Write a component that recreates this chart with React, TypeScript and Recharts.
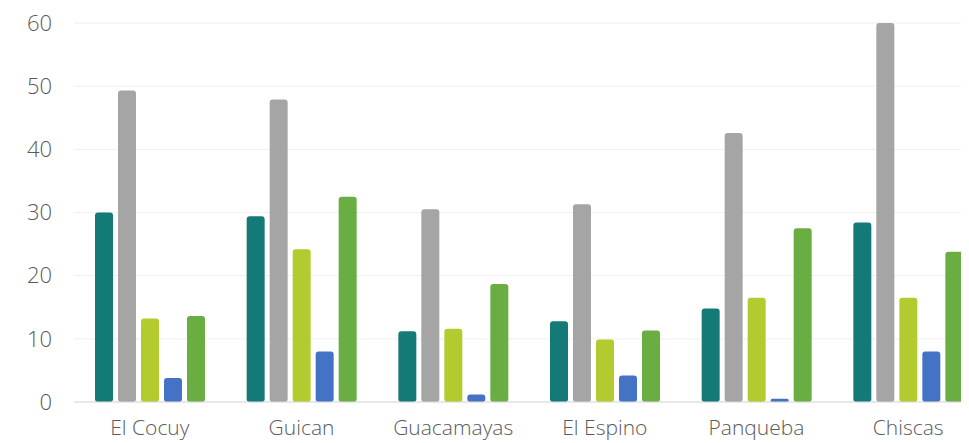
import React from 'react';
import { BarChart, Bar, XAxis, YAxis, CartesianGrid } from 'recharts';

const categories = ['El Cocuy', 'Guican', 'Guacamayas', 'El Espino', 'Panqueba', 'Chiscas'];
const serie1 = [30.0, 29.4, 11.2, 12.8, 14.8, 28.4];
const serie2 = [49.3, 47.9, 30.5, 31.3, 42.6, 60.0];
const serie3 = [13.2, 24.2, 11.6, 9.9, 16.5, 16.5];
const serie4 = [3.8, 8.0, 1.2, 4.2, 0.5, 8.0];
const serie5 = [13.6, 32.5, 18.7, 11.3, 27.5, 23.8];
const yTicks = [0, 10, 20, 30, 40, 50, 60];

const data = categories.map((name, i) => ({
  name,
  s1: serie1[i],
  s2: serie2[i],
  s3: serie3[i],
  s4: serie4[i],
  s5: serie5[i],
}));

const colors = ['#147a78', '#a5a5a5', '#b3cb2f', '#4472c4', '#6aad43'];
const keys = ['s1', 's2', 's3', 's4', 's5'];
const font = "'Open Sans', sans-serif";

export default function App() {
  return (
    <div style={{ width: 961, height: 435, overflow: 'hidden' }}>
      <BarChart
        width={992}
        height={435}
        data={data}
        margin={{ top: 15, right: 16, bottom: 11, left: 0 }}
        barGap={5}
        barCategoryGap="12.5%"
      >
        <CartesianGrid vertical={false} stroke="#efefef" />
        <XAxis
          dataKey="name"
          axisLine={{ stroke: '#d9d9d9' }}
          tickLine={false}
          tickSize={0}
          tickMargin={18}
          height={30}
          tick={{ fill: '#5a5a5a', fontSize: 21, fontWeight: 300, fontFamily: font }}
        />
        <YAxis
          domain={[0, 60]}
          ticks={yTicks}
          width={66}
          axisLine={false}
          tickLine={false}
          tickSize={0}
          tickMargin={22}
          tick={{ fill: '#5a5a5a', fontSize: 22, fontWeight: 300, fontFamily: font }}
        />
        {keys.map((k, i) => (
          <Bar key={k} dataKey={k} fill={colors[i]} barSize={18} radius={[3, 3, 3, 3]} isAnimationActive={false} />
        ))}
      </BarChart>
    </div>
  );
}
